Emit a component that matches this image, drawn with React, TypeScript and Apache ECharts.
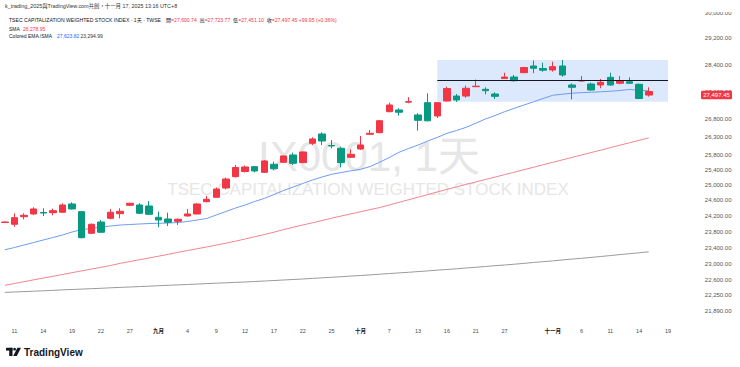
import React, { useEffect, useRef } from 'react';
import * as echarts from 'echarts';

// ---- data ----
const dates = [
  '08-08','08-11','08-12','08-13','08-14','08-15','08-18','08-19','08-20','08-21','08-22','08-25','08-26','08-27','08-28','08-29',
  '09-01','09-02','09-03','09-04','09-05','09-08','09-09','09-10','09-11','09-12','09-15','09-16','09-17','09-18','09-19','09-22','09-23','09-24','09-25','09-26','09-30',
  '10-01','10-02','10-03','10-07','10-08','10-09','10-13','10-14','10-15','10-16','10-17','10-20','10-21','10-22','10-23','10-27','10-28','10-29','10-30','10-31',
  '11-03','11-04','11-05','11-06','11-07','11-10','11-11','11-12','11-13','11-14','11-17','11-18','11-19'
];

const opens = [24030, 23983, 24176, 24246, 24285, 24280, 24290, 24504, 24306, 23756, 24041, 24135, 24253, 24470, 24478, 24452, 24161, 24118, 24059, 24195, 24246, 24564, 24678, 24922, 25223, 25360, 25491, 25339, 25555, 25609, 25808, 25600, 26129, 26388, 26068, 25991, 25745, 25972, 26379, 26424, 27018, 27067, 27292, 26924, 27277, 26895, 27326, 27469, 27469, 27742, 27665, 27528, 27983, 28027, 28157, 28357, 28282, 28237, 28357, 27792, 27910, 27821, 27792, 28018, 27842, 27889, 27812, 27600.74];
const closes = [24040, 24151, 24212, 24375, 24270, 24331, 24478, 24375, 23645, 23983, 23781, 24290, 24315, 24522, 24264, 24238, 24092, 24034, 24110, 24246, 24504, 24626, 24895, 25160, 25468, 25482, 25374, 25645, 25436, 25781, 25581, 25890, 26249, 26193, 26054, 25600, 25827, 26082, 26407, 26761, 27210, 27001, 27306, 26772, 26758, 27277, 27689, 27355, 27695, 27757, 27624, 27460, 28027, 27918, 28311, 28287, 28231, 28337, 28087, 27724, 27925, 27645, 27871, 27792, 27918, 27842, 27397.5, 27497.45];
const lows = [24020, 23922, 24110, 24220, 24195, 24213, 24280, 24367, 23630, 23738, 23771, 24110, 24135, 24452, 24246, 24220, 23907, 23940, 23965, 24177, 24238, 24547, 24670, 24883, 25200, 25334, 25339, 25320, 25401, 25604, 25536, 25590, 26082, 26082, 25991, 25474, 25728, 25945, 26360, 26416, 27001, 26904, 27260, 26481, 26745, 26838, 27312, 27297, 27420, 27733, 27519, 27383, 27969, 27895, 28142, 28142, 28187, 28187, 28037, 27375, 27889, 27624, 27695, 27762, 27812, 27821, 27380, 27451.10];
const highs = [24055, 24264, 24264, 24419, 24393, 24384, 24522, 24547, 24323, 24003, 24092, 24375, 24393, 24537, 24522, 24582, 24306, 24280, 24135, 24375, 24522, 24712, 24935, 25200, 25536, 25522, 25509, 25672, 25626, 25794, 25872, 25904, 26296, 26435, 26221, 26035, 25964, 26332, 26500, 26781, 27277, 27116, 27435, 26973, 27546, 27283, 27742, 27528, 27772, 27951, 27724, 27577, 28155, 28087, 28327, 28522, 28455, 28486, 28537, 27842, 28057, 27860, 27969, 28155, 28057, 28018, 27836, 27723.77];

const emaBlue = [23344, 23400, 23463, 23525, 23587, 23650, 23712, 23788, 23850, 23876, 23914, 23939, 23964, 23977, 23990, 24002, 24007, 24015, 24028, 24053, 24091, 24130, 24220, 24309, 24399, 24477, 24568, 24649, 24751, 24855, 24948, 25040, 25133, 25213, 25285, 25333, 25379, 25419, 25494, 25611, 25738, 25880, 25985, 26081, 26192, 26292, 26406, 26485, 26574, 26690, 26809, 26908, 27017, 27114, 27209, 27301, 27397, 27490, 27522, 27551, 27568, 27580, 27592, 27609, 27630, 27662, 27636, 27623.82];
const smaRed = [22484, 22527, 22570, 22613, 22656, 22699, 22742, 22786, 22829, 22873, 22916, 22960, 23011, 23055, 23099, 23143, 23187, 23231, 23281, 23325, 23370, 23414, 23461, 23508, 23558, 23613, 23668, 23723, 23783, 23849, 23907, 23965, 24021, 24077, 24138, 24194, 24248, 24302, 24359, 24411, 24478, 24545, 24613, 24681, 24749, 24817, 24885, 24951, 25017, 25081, 25147, 25211, 25278, 25342, 25409, 25474, 25542, 25607, 25674, 25740, 25808, 25874, 25939, 26008, 26077, 26143, 26212, 26278.95];
const smaGray = [22315, 22325, 22334, 22344, 22353, 22363, 22375, 22384, 22393, 22403, 22412, 22424, 22434, 22443, 22453, 22462, 22474, 22484, 22493, 22503, 22512, 22524, 22534, 22543, 22553, 22562, 22574, 22585, 22597, 22610, 22622, 22634, 22648, 22662, 22675, 22689, 22704, 22718, 22732, 22749, 22764, 22780, 22795, 22812, 22829, 22846, 22863, 22880, 22899, 22916, 22935, 22955, 22972, 22991, 23011, 23033, 23052, 23072, 23094, 23116, 23135, 23157, 23179, 23202, 23226, 23248, 23270, 23294.99];

const priceTicks = [21890, 22250, 22600, 23000, 23400, 23800, 24200, 24600, 25000, 25400, 25800, 26300, 26800, 27600, 28400, 29200, 30000];
const priceRange = [21627, 30151];
const xTickDates = ['08-11','08-14','08-19','08-22','08-27','09-01','09-04','09-09','09-12','09-17','09-22','09-25','10-01','10-07','10-13','10-16','10-21','10-27','11-03','11-06','11-11','11-14','11-19'];
const monthNames: Record<string, string> = { '09': '九月', '10': '十月', '11': '十一月' };

const boxFrom = '10-15';
const boxTo = '11-19';
const boxPrices = [28537, 27305];
const levelPrice = 27939;

const UP = '#f23645';
const DOWN = '#089981';
const FONT = '"Liberation Sans", "Noto Sans CJK TC", sans-serif';

const fmt = (n: number) =>
  n.toLocaleString('en-US', { minimumFractionDigits: 2, maximumFractionDigits: 2 });
const ln = (v: number) => Math.log(v);

export default function App() {
  const ref = useRef<HTMLDivElement>(null);

  useEffect(() => {
    document.body.style.margin = '0';
    const chart = echarts.init(ref.current!, null, { renderer: 'svg' });

    const candleData = opens.map((o, i) => {
      const c = closes[i];
      const prev = i > 0 ? closes[i - 1] : o;
      const col = c >= prev ? UP : DOWN;
      return {
        value: [ln(o), ln(c), ln(lows[i]), ln(highs[i])],
        itemStyle: { color: col, color0: col, borderColor: col, borderColor0: col, borderWidth: 1 },
      };
    });

    const lineSeries = (data: number[], color: string, z: number, extra: any = {}) => ({
      type: 'line',
      data: data.map(ln),
      symbol: 'none',
      z,
      silent: true,
      lineStyle: { color, width: 1 },
      ...extra,
    });

    chart.setOption({
      animation: false,
      grid: { left: -2.47, right: 67.2, top: 8, bottom: 45 },
      xAxis: {
        type: 'category',
        data: dates,
        boundaryGap: true,
        axisLine: { show: false },
        axisTick: { show: false },
        splitLine: { show: false },
        axisLabel: {
          interval: (_i: number, v: string) => xTickDates.includes(v),
          margin: 6,
          fontSize: 5.5,
          color: '#4a4a4a',
          fontFamily: FONT,
          formatter: (v: string, idx: number) => {
            if (idx > 0 && dates[idx - 1].slice(0, 2) !== v.slice(0, 2)) {
              return '{m|' + monthNames[v.slice(0, 2)] + '}';
            }
            return String(parseInt(v.slice(3), 10));
          },
          rich: { m: { fontSize: 5.5, fontWeight: 'bold', color: '#131722', fontFamily: FONT } },
        },
      },
      yAxis: {
        type: 'value',
        position: 'right',
        min: ln(priceRange[0]),
        max: ln(priceRange[1]),
        axisLine: { show: false },
        axisTick: { show: false },
        splitLine: { show: false },
        axisLabel: {
          customValues: priceTicks.map(ln),
          formatter: (v: number) => fmt(Math.round(Math.exp(v))),
          margin: 32,
          fontSize: 6,
          color: '#555',
          fontFamily: FONT,
        },
      },
      series: [
        lineSeries(smaGray, '#9a9a9a', 1, {
          markArea: {
            silent: true,
            itemStyle: { color: '#dce8fb' },
            data: [[{ xAxis: boxFrom, yAxis: ln(boxPrices[0]) }, { xAxis: boxTo, yAxis: ln(boxPrices[1]) }]],
          },
        }),
        lineSeries(smaRed, '#f08590', 2),
        lineSeries(emaBlue, '#6e9cf0', 2),
        {
          type: 'candlestick',
          data: candleData,
          barWidth: 7,
          z: 3,
          silent: true,
          markLine: {
            silent: true,
            symbol: 'none',
            label: { show: false },
            lineStyle: { color: '#131722', width: 1, type: 'solid' },
            data: [[{ xAxis: boxFrom, yAxis: ln(levelPrice) }, { xAxis: boxTo, yAxis: ln(levelPrice) }]],
          },
        },
      ],
    });

    const n = closes.length;
    const lastClose = closes[n - 1];
    const change = lastClose - closes[n - 2];
    const pct = (change / closes[n - 2]) * 100;
    const py = chart.convertToPixel({ yAxisIndex: 0 }, ln(lastClose)) as number;

    const txt = (x: number, y: number, text: string, fill: string, size = 5.5, extra: any = {}, z = 100) => ({
      type: 'text',
      z,
      silent: true,
      style: { x, y, text, fill, fontSize: size, fontFamily: FONT, verticalAlign: 'middle', ...extra },
    });
    const dark = '#131722';

    chart.setOption({
      graphic: [
        // watermark
        {
          type: 'text', z: 0, silent: true,
          style: { x: 369, y: 156, text: 'IX0001, 1天', fill: '#e6e6e6', fontSize: 42, fontFamily: FONT, align: 'center', verticalAlign: 'middle' },
        },
        {
          type: 'text', z: 0, silent: true,
          style: { x: 368, y: 189, text: 'TSEC CAPITALIZATION WEIGHTED STOCK INDEX', fill: '#e6e6e6', fontSize: 17, fontFamily: FONT, align: 'center', verticalAlign: 'middle' },
        },
        // header band
        { type: 'rect', z: 99, silent: true, shape: { x: 0, y: 0, width: 740, height: 12 }, style: { fill: '#ffffff' } },
        txt(5, 6, 'k_trading_2025與TradingView.com共創，十一月 17, 2025 13:16 UTC+8', '#333', 5.4),
        // legend
        txt(9, 20, 'TSEC CAPITALIZATION WEIGHTED STOCK INDEX · 1天 · TWSE', dark, 5.1),
        {
          type: 'text', z: 100, silent: true,
          style: {
            x: 166, y: 20, verticalAlign: 'middle', fontSize: 5.1, fontFamily: FONT,
            text: `{k|開}{v|=${fmt(opens[n - 1])}}  {k|高}{v|=${fmt(highs[n - 1])}}  {k|低}{v|=${fmt(lows[n - 1])}}  {k|收}{v|=${fmt(lastClose)} +${fmt(change)} (+${pct.toFixed(2)}%)}`,
            rich: {
              k: { fill: dark, fontSize: 5.1, fontFamily: FONT },
              v: { fill: UP, fontSize: 5.1, fontFamily: FONT },
            },
          },
        },
        txt(9, 29.3, 'SMA', dark, 5),
        txt(23, 29.3, fmt(smaRed[n - 1]), UP, 5),
        txt(9, 35.5, 'Colored EMA /SMA', dark, 5),
        txt(57, 35.5, fmt(emaBlue[n - 1]), '#2962ff', 5),
        txt(80.5, 35.5, fmt(smaGray[n - 1]), '#333', 5),
        // last price label
        { type: 'rect', z: 101, silent: true, shape: { x: 701, y: py - 4.2, width: 31, height: 8.4, r: 1 }, style: { fill: UP } },
        txt(716.5, py, fmt(lastClose), '#ffffff', 6, { align: 'center' }, 102),
        // TradingView logo
        { type: 'rect', z: 100, silent: true, shape: { x: 6, y: 347.8, width: 6.5, height: 2.8 }, style: { fill: dark } },
        { type: 'rect', z: 100, silent: true, shape: { x: 9.2, y: 347.8, width: 3.3, height: 8.2 }, style: { fill: dark } },
        { type: 'circle', z: 100, silent: true, shape: { cx: 14.6, cy: 349.2, r: 1.4 }, style: { fill: dark } },
        { type: 'polygon', z: 100, silent: true, shape: { points: [[17.4, 347.8], [21, 347.8], [16.8, 356], [13.2, 356]] }, style: { fill: dark } },
        txt(24, 352, 'TradingView', dark, 10, { fontWeight: 'bold' }),
      ],
    });

    return () => chart.dispose();
  }, []);

  return <div ref={ref} style={{ width: 740, height: 367 }} />;
}
